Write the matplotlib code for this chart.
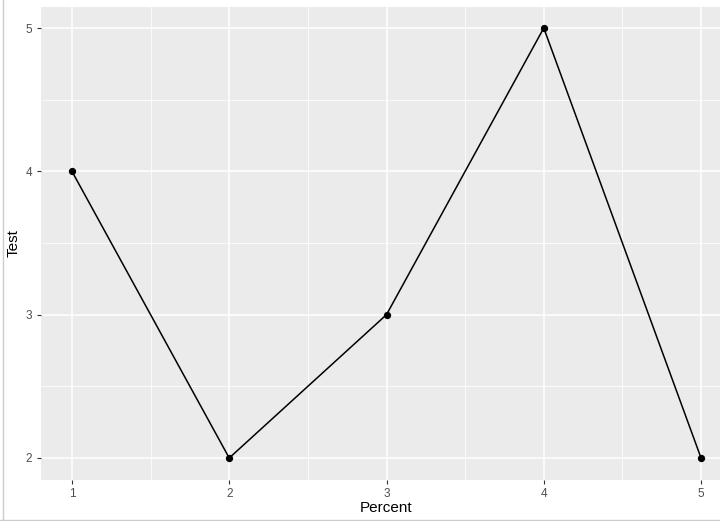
import matplotlib
matplotlib.use('Agg')
from matplotlib import pyplot as plt
from matplotlib.lines import Line2D

plt.rcParams['font.family'] = ['Liberation Sans', 'DejaVu Sans']

percent = [1, 2, 3, 4, 5]
test = [4, 2, 3, 5, 2]

fig = plt.figure(figsize=(7.2, 5.21), dpi=100)
ax = fig.add_axes([40.5 / 720, 1 - 479.5 / 521, 692 / 720, 473 / 521])
ax.set_facecolor('#EBEBEB')

ax.plot(percent, test, color='black', lw=1.1, zorder=3)
ax.scatter(percent, test, color='black', s=18, zorder=4)

ax.set_xlim(0.8, 5.2)
ax.set_ylim(1.85, 5.15)
ax.set_xticks([1, 2, 3, 4, 5])
ax.set_yticks([2, 3, 4, 5])
ax.set_xticks([1.5, 2.5, 3.5, 4.5], minor=True)
ax.set_yticks([2.5, 3.5, 4.5], minor=True)

ax.grid(which='major', color='white', lw=1.1, zorder=0)
ax.grid(which='minor', color='white', lw=0.55, zorder=0)
ax.set_axisbelow(True)
for s in ax.spines.values():
    s.set_visible(False)

ax.tick_params(which='major', length=3, width=0.8, color='#333333',
               labelsize=8.5, labelcolor='#4D4D4D', pad=3)
ax.tick_params(which='minor', length=0)

# axis titles placed where the reference has them
fig.text(386.5 / 720, 1 - 508 / 521, 'Percent', fontsize=11,
         ha='center', va='center')
fig.text(14 / 720, 1 - 243 / 521, 'Test', fontsize=11, rotation=90,
         ha='center', va='center')

# thin border of the screenshot
fig.add_artist(Line2D([2.5 / 720, 2.5 / 720], [0, 1], color='#CCCCCC', lw=1))
fig.add_artist(Line2D([0, 1], [1.5 / 521, 1.5 / 521], color='#CCCCCC', lw=1))

fig.savefig('out.png', dpi=100)
